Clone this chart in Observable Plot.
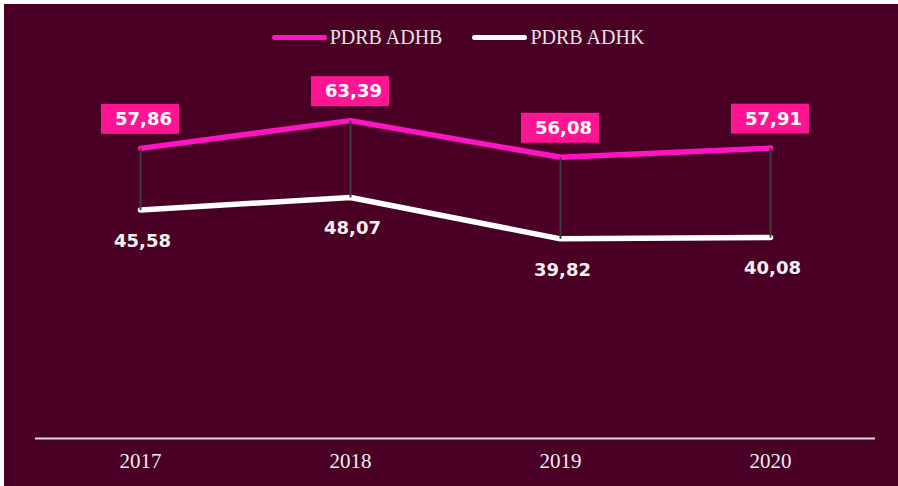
<!DOCTYPE html>
<html>
<head>
<meta charset="utf-8">
<script src="https://cdn.jsdelivr.net/npm/d3@7"></script>
<script src="https://cdn.jsdelivr.net/npm/@observablehq/plot@0.6"></script>
<style>
  html, body { margin: 0; padding: 0; background: #ffffff; }
  #frame { position: absolute; left: 4px; top: 4px; width: 894px; height: 482px; background: #4a0024; overflow: hidden; }
  #legend { position: absolute; top: 21px; left: 0; width: 894px; height: 24px; display: flex; justify-content: center; align-items: center; padding-left: 14px; box-sizing: border-box; font-family: "Liberation Serif", serif; font-size: 20px; color: #e8e3e6; }
  .item { display: flex; align-items: center; }
  .sw { width: 55px; height: 5px; border-radius: 3px; margin-right: 3px; }
  .item + .item { margin-left: 30px; }
  #chart { position: absolute; left: 0; top: 60px; }
</style>
</head>
<body>
<div id="frame">
  <div id="legend"></div>
  <div id="chart"></div>
</div>
<script>
const years = ["2017", "2018", "2019", "2020"];
const adhb = [57.86, 63.39, 56.08, 57.91];
const adhk = [45.58, 48.07, 39.82, 40.08];
const seriesNames = ["PDRB ADHB", "PDRB ADHK"];
const seriesColors = ["#ff14c4", "#ffffff"];
const boxColor = "#ff1493";

const fmt = v => v.toFixed(2).replace(".", ",");

const rows = years.map((y, i) => ({year: y, adhb: adhb[i], adhk: adhk[i]}));

// legend
const legend = document.getElementById("legend");
seriesNames.forEach((name, i) => {
  const it = document.createElement("div");
  it.className = "item";
  const sw = document.createElement("div");
  sw.className = "sw";
  sw.style.background = seriesColors[i];
  const tx = document.createElement("span");
  tx.textContent = name;
  it.appendChild(sw);
  it.appendChild(tx);
  legend.appendChild(it);
});

const chart = Plot.plot({
  width: 894,
  height: 422,
  marginTop: 23,
  marginBottom: 48,
  marginLeft: 31,
  marginRight: 23,
  style: {background: "transparent", color: "#eeeeee"},
  x: {type: "band", domain: years, padding: 0},
  y: {domain: [0, 70], axis: null},
  marks: [
    Plot.ruleY([0], {stroke: "#dcdcdc", strokeWidth: 2}),
    Plot.axisX({tickSize: 0, tickPadding: 15, fontSize: 21, fontFamily: "Liberation Serif, serif", fill: "#eeeeee", label: null}),
    Plot.line(rows, {x: "year", y: "adhk", stroke: seriesColors[1], strokeWidth: 5.5, strokeLinecap: "round", strokeLinejoin: "round"}),
    Plot.line(rows, {x: "year", y: "adhb", stroke: seriesColors[0], strokeWidth: 5.5, strokeLinecap: "round", strokeLinejoin: "round"}),
    Plot.link(rows, {x1: "year", x2: "year", y1: "adhb", y2: "adhk", stroke: "#3c3c3c", strokeWidth: 2}),
    Plot.barY(rows, {x: "year", y1: d => d.adhb, y2: d => d.adhb, fill: boxColor, insetLeft: 66, insetRight: 66, insetTop: -44, insetBottom: 14}),
    Plot.text(rows, {x: "year", y: "adhb", text: d => fmt(d.adhb), dy: -29, dx: 3, fill: "#ffffff", fontSize: 18, fontWeight: "bold", fontFamily: "DejaVu Sans, sans-serif"}),
    Plot.text(rows, {x: "year", y: "adhk", text: d => fmt(d.adhk), dy: 31, dx: 2, fill: "#f4f0f2", fontSize: 18, fontWeight: "bold", fontFamily: "DejaVu Sans, sans-serif"})
  ]
});
document.getElementById("chart").appendChild(chart);
</script>
</body>
</html>
